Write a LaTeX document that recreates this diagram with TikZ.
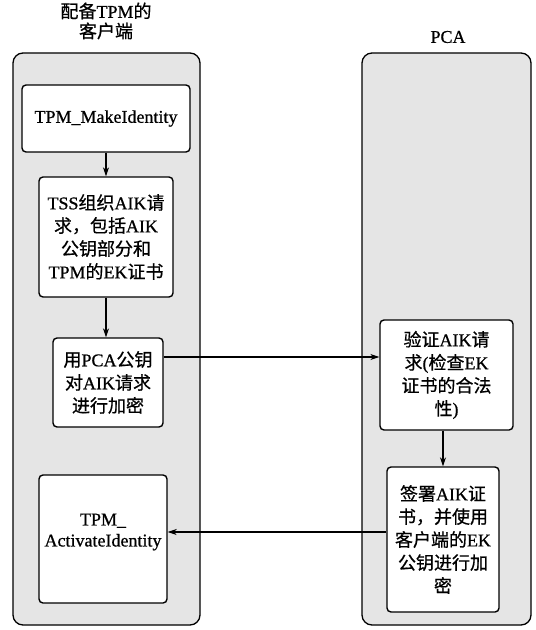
\documentclass[tikz,border=0pt]{standalone}
\usepackage{fontspec}
\setmainfont[FakeBold=0.7]{Liberation Serif}
\newfontfamily\cjkfont[FakeBold=0.7]{Noto Sans CJK SC}
\newcommand\zh[1]{{\cjkfont #1}}
\usetikzlibrary{arrows.meta}
\tikzset{
  lane/.style={draw=black, line width=1.3bp, fill=black!10, rounded corners=10bp},
  stepbox/.style={draw=black, line width=1.4bp, fill=white, rounded corners=4bp, align=center,
    inner sep=2bp, font=\fontsize{18bp}{23bp}\selectfont},
  steptext/.style={align=center, inner sep=0bp, font=\fontsize{18bp}{21bp}\selectfont},
  title/.style={align=center, font=\fontsize{18bp}{20bp}\selectfont},
  flow/.style={line width=1.1bp, -{Stealth[length=9bp,width=6bp]}}
}
\begin{document}
\begin{tikzpicture}[x=1bp,y=-1bp]
\useasboundingbox (0,0) rectangle (536,630);
\fill[white] (0,0) rectangle (536,630);
% lanes
\draw[lane] (13,53) rectangle (200,625);
\draw[lane] (362,53) rectangle (531,625);
% titles
\node[title] (t1) at (106,21) {\zh{配备}TPM\zh{的}\\\zh{客户端}};
\node[title] (t2) at (448,37) {PCA};
% boxes
\node[stepbox, minimum width=168bp, minimum height=67bp] (B1) at (106,118.5) {TPM\_MakeIdentity};
\node[stepbox, minimum width=134bp, minimum height=120bp] (B2) at (106,237)
  {TSS\zh{组织}AIK\zh{请}\\\zh{求，包括}AIK\\\zh{公钥部分和}\\TPM\zh{的}EK\zh{证书}};
\node[stepbox, minimum width=110bp, minimum height=89bp] (B3) at (108,382.5)
  {\zh{用}PCA\zh{公钥}\\\zh{对}AIK\zh{请求}\\\zh{进行加密}};
\node[stepbox, minimum width=128bp, minimum height=128bp] (B4) at (103,539) {};
\node[steptext] (B4t) at (103,532) {TPM\_\\ActivateIdentity};
\node[stepbox, minimum width=133bp, minimum height=110bp] (B5) at (446.5,375)
  {\zh{验证}AIK\zh{请}\\\zh{求}(\zh{检查}EK\\\zh{证书的合法}\\\zh{性})};
\node[stepbox, minimum width=112bp, minimum height=145bp] (B6) at (443,539.5)
  {\zh{签署}AIK\zh{证}\\\zh{书，并使用}\\\zh{客户端的}EK\\\zh{公钥进行加}\\\zh{密}};
% connectors
\draw[flow] (B1.south) -- (B2.north);
\draw[flow] (B2.south) -- (B2.south |- B3.north);
\coordinate (a1) at (B3.east |- 0,357);
\draw[flow] (a1) -- (a1 -| B5.west);
\draw[flow] (B6.north |- B5.south) -- (B6.north);
\coordinate (a2) at (B6.west |- 0,532);
\draw[flow] (a2) -- (a2 -| B4.east);
\end{tikzpicture}
\end{document}
